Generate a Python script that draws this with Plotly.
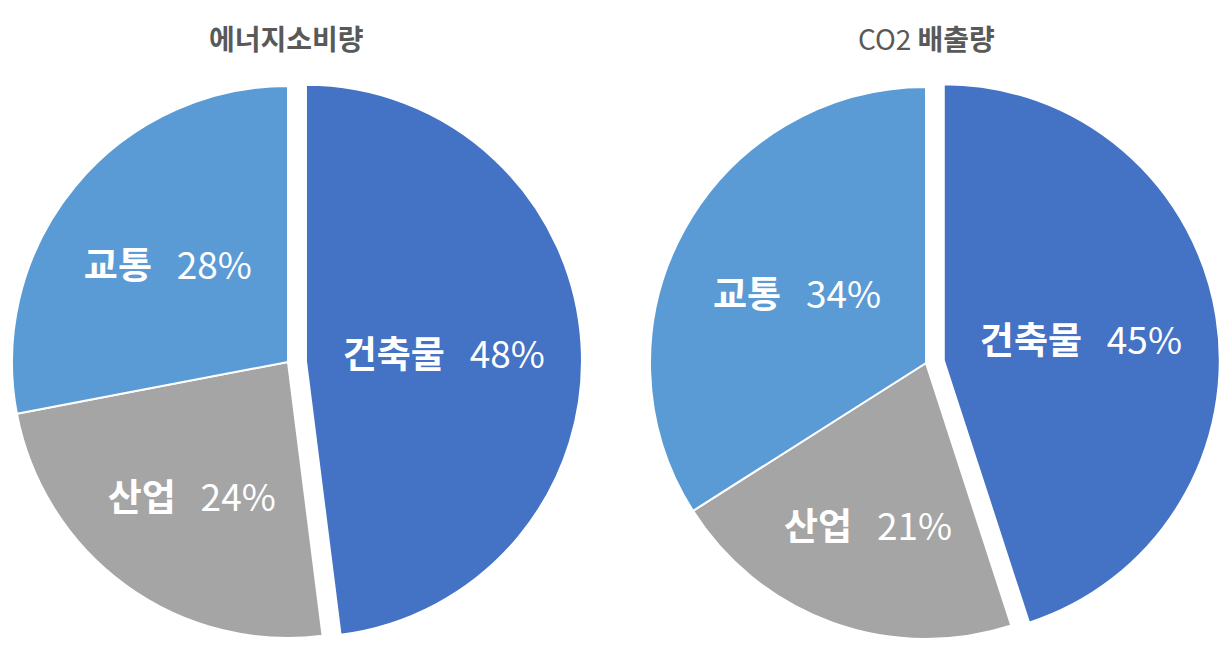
import math
import plotly.graph_objects as go

labels = ["건축물", "산업", "교통"]
energy = [48, 24, 28]
co2 = [45, 21, 34]
titles = ["<b>에너지소비량</b>", "CO2 <b>배출량</b>"]
colors = ["#4472C4", "#A5A5A5", "#5B9BD5"]

# figure sits inside the page body (8px margin)
FW, FH, OFF = 1212, 634, 8
FONT = "Noto Sans CJK KR"
R = 276          # pie radius, px
PULL_PX = 18     # how far the first slice is pulled out
TMPL = "<b>%{label}</b>\u00a0\u00a0\u00a0%{value}%"
CLEAR = "rgba(0,0,0,0)"


def domain(cx, cy, dx=0.0, dy=0.0):
    # page px -> paper fractions of a square domain of radius R
    x0 = (cx + dx - R - OFF) / FW
    x1 = (cx + dx + R - OFF) / FW
    y0 = 1 - (cy + dy + R - OFF) / FH
    y1 = 1 - (cy + dy - R - OFF) / FH
    return dict(x=[max(x0, 0), min(x1, 1)], y=[max(y0, 0), min(y1, 1)])


def pie(values, cx, cy):
    # first slice drawn as its own trace, shifted along its mid angle
    mid = math.radians(360 * values[0] / sum(values) / 2)
    dx, dy = PULL_PX * math.sin(mid), -PULL_PX * math.cos(mid)
    common = dict(
        labels=labels, values=values, sort=False, direction="clockwise",
        rotation=0, textposition="inside", insidetextorientation="horizontal",
        insidetextfont=dict(family=FONT, size=37, color="white"),
        hoverinfo="label+percent", showlegend=False,
    )
    rest = go.Pie(
        marker=dict(colors=[CLEAR] + colors[1:],
                    line=dict(color="white", width=[0, 2, 2])),
        texttemplate=[""] + [TMPL] * (len(values) - 1),
        domain=domain(cx, cy), **common,
    )
    first = go.Pie(
        marker=dict(colors=[colors[0]] + [CLEAR] * (len(values) - 1),
                    line=dict(color="white", width=[2] + [0] * (len(values) - 1))),
        texttemplate=[TMPL] + [""] * (len(values) - 1),
        domain=domain(cx, cy, dx, dy), **common,
    )
    return [rest, first]


fig = go.Figure()
for tr in pie(energy, 288, 362) + pie(co2, 926, 363):
    fig.add_trace(tr)

for t, cx in zip(titles, [286, 926]):
    fig.add_annotation(
        text=t,
        x=(cx - OFF) / FW, y=1 - (38 - OFF) / FH, xref="paper", yref="paper",
        xanchor="center", yanchor="middle", showarrow=False,
        font=dict(family=FONT, size=28, color="#595959"),
    )

fig.update_layout(
    width=FW, height=FH,
    margin=dict(l=0, r=0, t=0, b=0),
    paper_bgcolor="white",
    plot_bgcolor="white",
    font=dict(family=FONT),
)

fig.write_html("out.html")
